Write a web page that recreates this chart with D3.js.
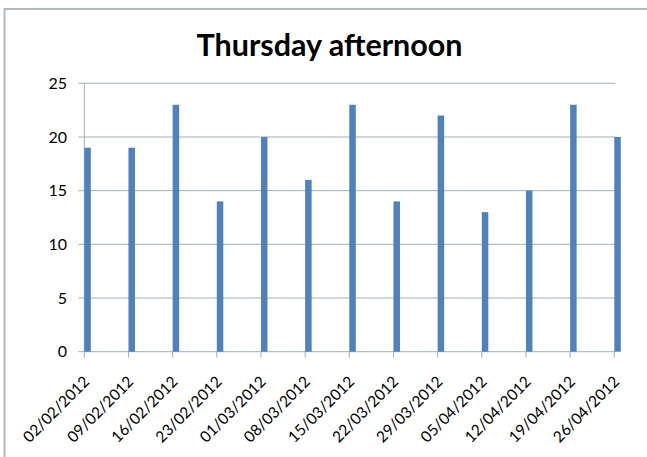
<!DOCTYPE html>
<html>
<head>
<meta charset="utf-8">
<script src="https://cdn.jsdelivr.net/npm/d3@7"></script>
<style>
  html, body { margin: 0; padding: 0; background: #fff; }
  svg { display: block; }
</style>
</head>
<body>
<script>
const title = "Thursday afternoon";
const categories = ["02/02/2012", "09/02/2012", "16/02/2012", "23/02/2012", "01/03/2012", "08/03/2012", "15/03/2012", "22/03/2012", "29/03/2012", "05/04/2012", "12/04/2012", "19/04/2012", "26/04/2012"];
const values = [19, 19, 23, 14, 20, 16, 23, 14, 22, 13, 15, 23, 20];
const yTicks = [0, 5, 10, 15, 20, 25];

(function () {
const W = 647, H = 457;
const svg = d3.select("body").append("svg").attr("width", W).attr("height", H);

// outer chart border
svg.append("rect")
  .attr("x", 4.5).attr("y", 9).attr("width", 700).attr("height", 500)
  .attr("fill", "#fff").attr("stroke", "#b3babe").attr("stroke-width", 2);

const pLeft = 84.3, pRight = 614.3, pTop = 83.3, pBottom = 351.7;
const x = d3.scalePoint().domain(categories).range([pLeft, pRight]);
const y = d3.scaleLinear().domain([0, 25]).range([pBottom, pTop]);
const gridColor = "#9fb0ba";
const barW = 6.5;

// gridlines
svg.append("g").selectAll("line").data(yTicks).join("line")
  .attr("x1", pLeft - 6).attr("x2", pRight + 1)
  .attr("y1", d => y(d)).attr("y2", d => y(d))
  .attr("stroke", gridColor).attr("stroke-width", 1);

// y axis line
svg.append("line").attr("x1", pLeft).attr("x2", pLeft).attr("y1", pTop).attr("y2", pBottom)
  .attr("stroke", gridColor).attr("stroke-width", 1);

// x tick marks
svg.append("g").selectAll("line").data(categories).join("line")
  .attr("x1", d => x(d)).attr("x2", d => x(d))
  .attr("y1", pBottom).attr("y2", pBottom + 6)
  .attr("stroke", gridColor).attr("stroke-width", 1);

// bars
svg.append("g").selectAll("rect").data(values).join("rect")
  .attr("x", (d, i) => x(categories[i]))
  .attr("y", d => y(d))
  .attr("width", barW)
  .attr("height", d => y(0) - y(d))
  .attr("fill", "#4f81bd");

// y labels
svg.append("g").selectAll("text").data(yTicks).join("text")
  .attr("x", 67).attr("y", d => y(d))
  .attr("dy", "0.35em")
  .attr("text-anchor", "end")
  .attr("font-family", "Lato, 'Open Sans', sans-serif")
  .attr("font-size", 16)
  .attr("fill", "#000")
  .text(d => d);

// x labels
svg.append("g").selectAll("text").data(categories).join("text")
  .attr("transform", d => `translate(${x(d) + 6},${pBottom + 31}) rotate(-45)`)
  .attr("text-anchor", "end")
  .attr("font-family", "Lato, 'Open Sans', sans-serif")
  .attr("font-size", 15.5)
  .attr("fill", "#000")
  .text(d => d);

// title
svg.append("text")
  .attr("x", 329.5).attr("y", 56)
  .attr("text-anchor", "middle")
  .attr("font-family", "Lato, 'Open Sans', sans-serif")
  .attr("font-weight", "bold")
  .attr("font-size", 30.5)
  .attr("fill", "#000")
  .text(title);
})();
</script>
</body>
</html>
